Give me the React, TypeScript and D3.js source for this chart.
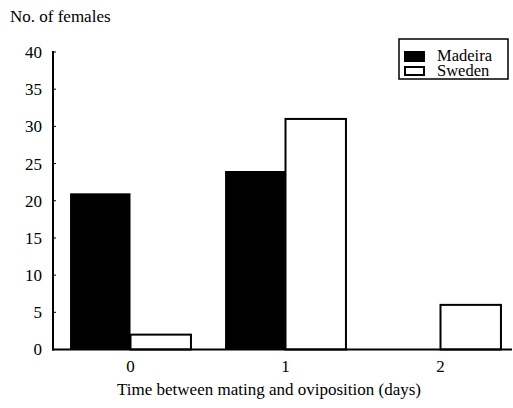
import React from "react";
import * as d3 from "d3";

const categories = ["0", "1", "2"];
const series = ["Madeira", "Sweden"];
const madeira = [21, 24, 0];
const sweden = [2, 31, 6];
const yTicks = [0, 5, 10, 15, 20, 25, 30, 35, 40];

const W = 513;
const H = 408;
const FONT = '"Liberation Serif", "DejaVu Serif", serif';
const ts = { fontFamily: FONT };

export default function App() {
  const x = d3.scaleBand<string>().domain(categories).range([53, 518]).paddingInner(0.22).paddingOuter(0.11);
  const xs = d3.scaleBand<string>().domain(series).range([0, x.bandwidth()]);
  const y = d3.scaleLinear().domain([0, 40]).range([349.5, 52]);
  const values = [madeira, sweden];

  return (
    <svg width={W} height={H} style={{ position: "absolute", left: 0, top: 0, background: "#fff" }}>
      <rect x={0} y={0} width={W} height={H} fill="#fff" />
      <text x={10} y={22} fontSize={17} style={ts}>No. of females</text>

      {categories.map((c, i) =>
        series.map((s, j) => {
          const v = values[j][i];
          if (v <= 0) return null;
          const bx = (x(c) as number) + (xs(s) as number);
          const by = y(v);
          return (
            <rect
              key={c + s}
              x={bx}
              y={by}
              width={xs.bandwidth()}
              height={y(0) - by}
              fill={j === 0 ? "#000" : "#fff"}
              stroke="#000"
              strokeWidth={j === 0 ? 0 : 2}
            />
          );
        })
      )}

      <line x1={53} x2={53} y1={51} y2={350.5} stroke="#000" strokeWidth={2} />
      <line x1={52} x2={512} y1={349.5} y2={349.5} stroke="#000" strokeWidth={2} />
      {yTicks.map((t) => (
        <g key={t}>
          <line x1={53} x2={56} y1={y(t)} y2={y(t)} stroke="#000" strokeWidth={1} />
          <text x={42} y={y(t)} dy="0.35em" textAnchor="end" fontSize={17} style={ts}>{t}</text>
        </g>
      ))}
      {categories.map((c) => (
        <text key={c} x={(x(c) as number) + x.bandwidth() / 2} y={372} textAnchor="middle" fontSize={17} style={ts}>{c}</text>
      ))}
      <text x={269} y={395} textAnchor="middle" fontSize={17} style={ts}>Time between mating and oviposition (days)</text>

      <rect x={399} y={39} width={109} height={40} fill="#fff" stroke="#000" strokeWidth={1.5} />
      <rect x={404} y={51} width={21} height={11} fill="#000" />
      <rect x={405} y={67} width={19} height={8} fill="#fff" stroke="#000" strokeWidth={2} />
      <text x={437} y={61} fontSize={16.5} style={ts}>{series[0]}</text>
      <text x={437} y={76} fontSize={16.5} style={ts}>{series[1]}</text>
    </svg>
  );
}
